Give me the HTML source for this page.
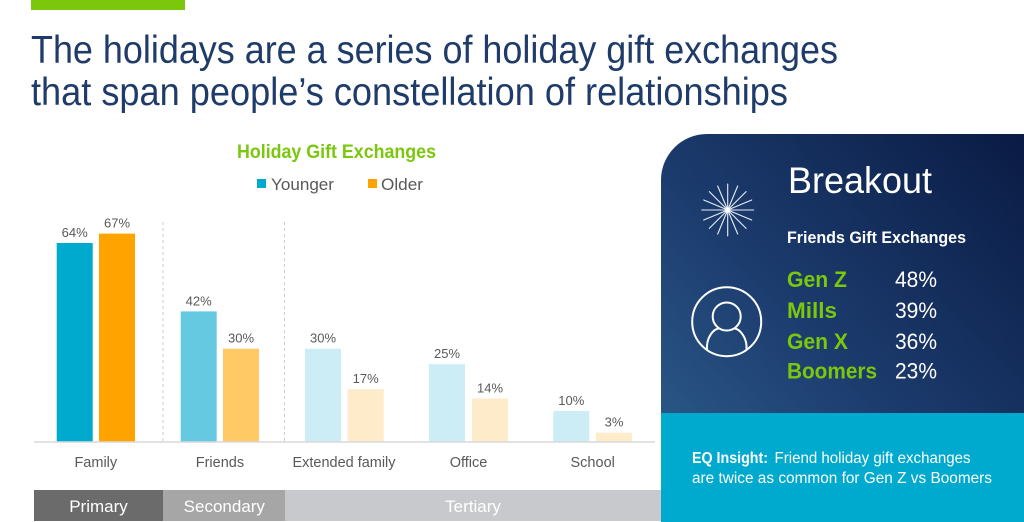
<!DOCTYPE html>
<html><head><meta charset="utf-8"><style>
html,body{margin:0;padding:0;background:#fff;}
svg{display:block;}
text{font-family:"Liberation Sans",sans-serif;}
</style></head><body>
<svg width="1024" height="522" viewBox="0 0 1024 522" xmlns="http://www.w3.org/2000/svg">
<defs>
<linearGradient id="pg" x1="1" y1="0" x2="0" y2="1">
<stop offset="0" stop-color="#0a1b44"/>
<stop offset="0.55" stop-color="#1c3c6e"/>
<stop offset="1" stop-color="#2f6190"/>
</linearGradient>
</defs>
<rect width="1024" height="522" fill="#fff"/>
<rect x="31" y="0" width="154" height="10" fill="#7ac70c"/>
<text x="31" y="63" font-size="39" fill="#1f3b69" textLength="807" lengthAdjust="spacingAndGlyphs">The holidays are a series of holiday gift exchanges</text>
<text x="31" y="105" font-size="39" fill="#1f3b69" textLength="757" lengthAdjust="spacingAndGlyphs">that span people’s constellation of relationships</text>

<text x="237" y="158" font-size="19" font-weight="bold" fill="#7ac70c" textLength="199" lengthAdjust="spacingAndGlyphs">Holiday Gift Exchanges</text>
<rect x="257" y="179" width="9" height="9" fill="#00a9ce"/>
<text x="271" y="190" font-size="16.5" fill="#595959" textLength="63" lengthAdjust="spacingAndGlyphs">Younger</text>
<rect x="368" y="179" width="9" height="9" fill="#ffa300"/>
<text x="381" y="190" font-size="16.5" fill="#595959" textLength="42" lengthAdjust="spacingAndGlyphs">Older</text>

<g stroke="#c9cdd3" stroke-width="1" stroke-dasharray="3,3">
<line x1="163" y1="222" x2="163" y2="442"/>
<line x1="284.5" y1="222" x2="284.5" y2="442"/>
</g>

<g>
<rect x="56.7" y="243" width="36" height="199" fill="#00a9ce"/>
<rect x="99" y="233.6" width="36" height="208.4" fill="#ffa300"/>
<rect x="180.7" y="311.4" width="36" height="130.6" fill="#66c9e2"/>
<rect x="223" y="348.7" width="36" height="93.3" fill="#ffc966"/>
<rect x="305" y="348.7" width="36" height="93.3" fill="#cdedf6"/>
<rect x="347.7" y="389.1" width="36" height="52.9" fill="#feebc9"/>
<rect x="429" y="364.2" width="36" height="77.8" fill="#cdedf6"/>
<rect x="472" y="398.5" width="36" height="43.5" fill="#feebc9"/>
<rect x="553.3" y="410.9" width="36" height="31.1" fill="#cdedf6"/>
<rect x="596" y="432.7" width="36" height="9.3" fill="#feebc9"/>
</g>
<line x1="34" y1="442" x2="655" y2="442" stroke="#d9d9d9" stroke-width="1.5"/>

<g font-size="13" fill="#595959" text-anchor="middle">
<text x="74.7" y="237">64%</text>
<text x="117" y="227.6">67%</text>
<text x="198.7" y="305.4">42%</text>
<text x="241" y="342.7">30%</text>
<text x="323" y="342.7">30%</text>
<text x="365.7" y="383.1">17%</text>
<text x="447" y="358.2">25%</text>
<text x="490" y="392.5">14%</text>
<text x="571.3" y="404.9">10%</text>
<text x="614" y="426.7">3%</text>
</g>

<g font-size="14.5" fill="#595959" text-anchor="middle">
<text x="95.8" y="467">Family</text>
<text x="219.9" y="467">Friends</text>
<text x="344" y="467" textLength="103" lengthAdjust="spacingAndGlyphs">Extended family</text>
<text x="468.5" y="467">Office</text>
<text x="592.7" y="467">School</text>
</g>

<rect x="34" y="490" width="129" height="31" fill="#6b6b6b"/>
<rect x="163" y="490" width="122" height="31" fill="#a6a6a6"/>
<rect x="285" y="490" width="377" height="31" fill="#c8c9cc"/>
<g font-size="17" fill="#fff" text-anchor="middle">
<text x="98.5" y="512">Primary</text>
<text x="224.3" y="512">Secondary</text>
<text x="473" y="512">Tertiary</text>
</g>

<path d="M661,522 L661,180 A46,46 0 0 1 707,134 L1024,134 L1024,522 Z" fill="url(#pg)"/>
<rect x="661" y="413" width="363" height="109" fill="#00a9ce"/>

<g stroke="#e8eef6" stroke-width="1.1" stroke-linecap="round">
<line x1="727.7" y1="184" x2="727.7" y2="236"/>
<line x1="701.7" y1="210" x2="753.7" y2="210"/>
<line x1="709.3" y1="191.6" x2="746.1" y2="228.4"/>
<line x1="709.3" y1="228.4" x2="746.1" y2="191.6"/>
<line x1="717.7" y1="186" x2="737.7" y2="234"/>
<line x1="737.7" y1="186" x2="717.7" y2="234"/>
<line x1="703.7" y1="200" x2="751.7" y2="220"/>
<line x1="703.7" y1="220" x2="751.7" y2="200"/>
</g>
<circle cx="727.7" cy="210" r="2.5" fill="#fff"/>

<g fill="none" stroke="#fff" stroke-width="2">
<circle cx="726.7" cy="321.7" r="34.5"/>
<circle cx="726.7" cy="316.5" r="14"/>
<path d="M707,350 C706,338 713,329 719,328.5 M734.4,328.5 C740,329 747.5,338 746.5,350"/>
</g>

<text x="788" y="193" font-size="37" fill="#fff" textLength="144" lengthAdjust="spacingAndGlyphs">Breakout</text>
<text x="787" y="243" font-size="17" font-weight="bold" fill="#fff" textLength="179" lengthAdjust="spacingAndGlyphs">Friends Gift Exchanges</text>
<g font-size="22" font-weight="bold" fill="#7ac70c">
<text x="787" y="287" textLength="60" lengthAdjust="spacingAndGlyphs">Gen Z</text>
<text x="787" y="318" textLength="50" lengthAdjust="spacingAndGlyphs">Mills</text>
<text x="787" y="349" textLength="61" lengthAdjust="spacingAndGlyphs">Gen X</text>
<text x="787" y="378.5" textLength="90" lengthAdjust="spacingAndGlyphs">Boomers</text>
</g>
<g font-size="22" fill="#fff">
<text x="895" y="287" textLength="42" lengthAdjust="spacingAndGlyphs">48%</text>
<text x="895" y="318" textLength="42" lengthAdjust="spacingAndGlyphs">39%</text>
<text x="895" y="349" textLength="42" lengthAdjust="spacingAndGlyphs">36%</text>
<text x="895" y="378.5" textLength="42" lengthAdjust="spacingAndGlyphs">23%</text>
</g>

<text x="692" y="463" font-size="15.5" font-weight="bold" fill="#fff" textLength="76" lengthAdjust="spacingAndGlyphs">EQ Insight:</text>
<text x="774.5" y="463" font-size="15.5" fill="#fff" textLength="196" lengthAdjust="spacingAndGlyphs">Friend holiday gift exchanges</text>
<text x="692" y="483" font-size="15.5" fill="#fff" textLength="300" lengthAdjust="spacingAndGlyphs">are twice as common for Gen Z vs Boomers</text>
</svg>
</body></html>
